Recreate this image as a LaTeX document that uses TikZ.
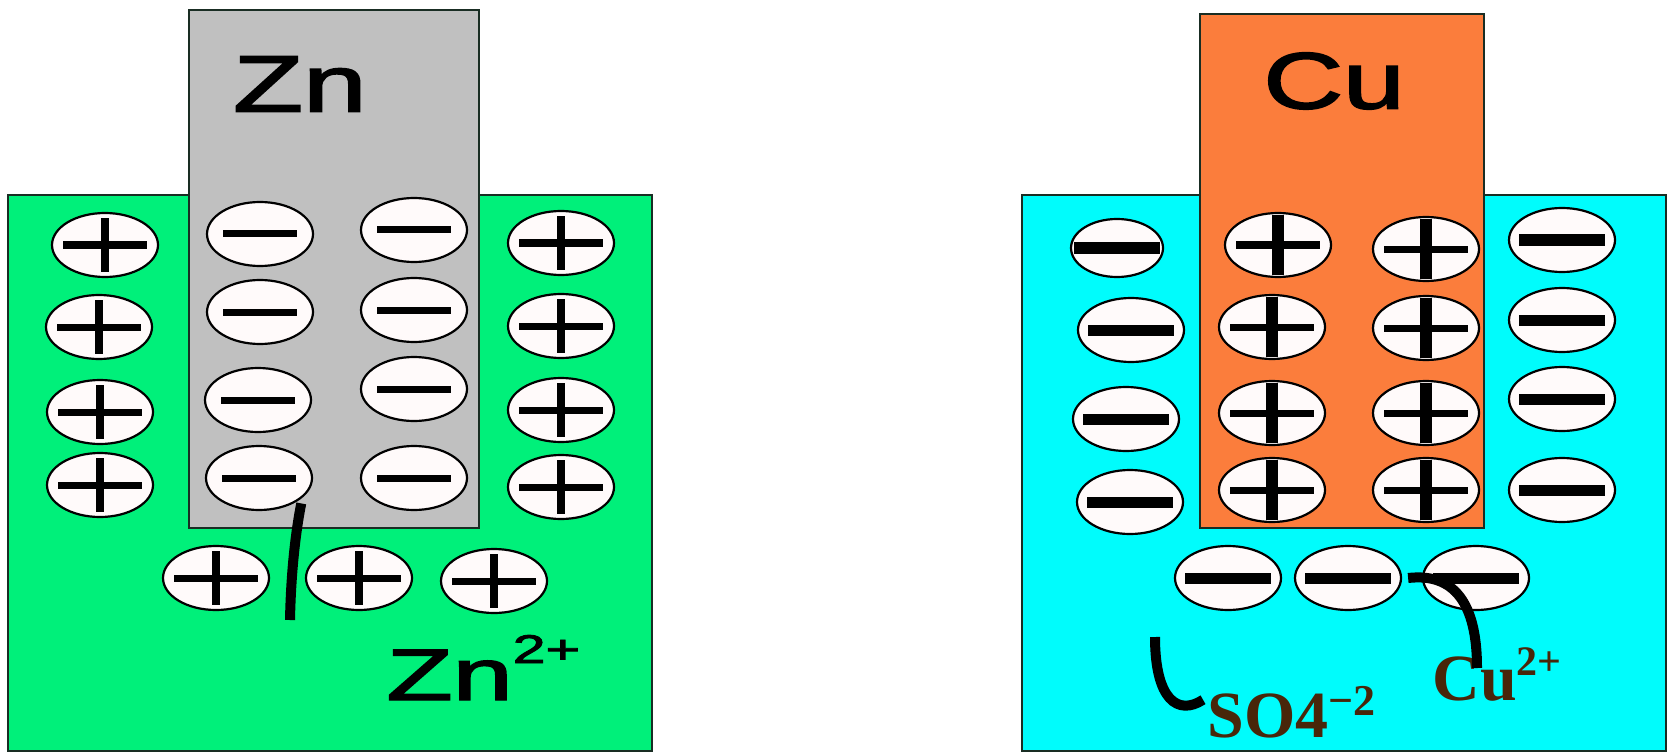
\documentclass[tikz,border=0pt]{standalone}
\usepackage{fontspec}
\setmainfont{Liberation Serif}
\newfontfamily\arialfont[FakeBold=2]{Liberation Sans}
\usetikzlibrary{shapes.geometric}

\definecolor{solgreen}{RGB}{0,240,122}
\definecolor{zincgray}{RGB}{192,192,192}
\definecolor{solcyan}{RGB}{0,252,252}
\definecolor{copperorange}{RGB}{251,125,60}
\definecolor{labelbrown}{RGB}{72,38,10}
\definecolor{edgedark}{RGB}{25,45,35}
\definecolor{ionwhite}{RGB}{255,250,250}

\tikzset{
  ion/.style={ellipse, draw=black, line width=1.1pt, fill=ionwhite,
    minimum width=53pt, minimum height=32pt, inner sep=0pt},
  minusion/.style 2 args={ion, path picture={
    \fill[black] ([shift={(-#1,-#2)}]path picture bounding box.center)
      rectangle ([shift={(#1,#2)}]path picture bounding box.center);}},
  plusion/.style n args={4}{ion, path picture={
    \fill[black] ([shift={(-#1,-#2)}]path picture bounding box.center)
      rectangle ([shift={(#1,#2)}]path picture bounding box.center);
    \fill[black] ([shift={(-#3,-#4)}]path picture bounding box.center)
      rectangle ([shift={(#3,#4)}]path picture bounding box.center);}},
  zmin/.style={minusion={18.5pt}{1.75pt}},
  zplus/.style={plusion={21pt}{1.75pt}{2.2pt}{13.5pt}},
  cmin/.style={minusion={21.5pt}{2.75pt}},
  cplus/.style={plusion={21pt}{1.75pt}{3pt}{15pt}},
  vessel/.style={draw=edgedark, line width=1.2pt},
  electrode/.style={draw=edgedark, line width=1.2pt},
  metallabel/.style={font=\arialfont\fontsize{40}{40}\selectfont, inner sep=0pt},
  leader/.style={draw=black, line width=5pt},
  ionlabel/.style={font=\bfseries\fontsize{33}{33}\selectfont, text=labelbrown,
    inner sep=0pt, anchor=base west},
}

\begin{document}
\begin{tikzpicture}[x=0.5pt,y=-0.5pt]
  \useasboundingbox (0,0) rectangle (1674,754);
  \fill[white] (0,0) rectangle (1674,754);

  % ---------- zinc half-cell ----------
  \path[vessel, fill=solgreen] (8,195) rectangle (652,751);
  \path[electrode, fill=zincgray] (189,10) rectangle (479,528);
  \node[metallabel, xscale=1.43] (znlabel) at (300,84) {Zn};

  \foreach \x/\y [count=\i] in {105/245, 99/327, 100/412, 100/485}
    \node[zplus] (zo\i) at (\x,\y) {};
  \foreach \x/\y [count=\i] in {260/234, 260/312, 258/400, 259/478}
    \node[zmin] (zl\i) at (\x,\y) {};
  \foreach \x/\y [count=\i] in {414/230, 414/310, 414/389, 414/478}
    \node[zmin] (zr\i) at (\x,\y) {};
  \foreach \x/\y [count=\i] in {561/243, 561/326, 561/410, 561/487}
    \node[zplus] (zq\i) at (\x,\y) {};
  \foreach \x/\y [count=\i] in {216/578, 359/578, 494/581}
    \node[zplus] (zb\i) at (\x,\y) {};

  \node[font=\arialfont\fontsize{36.5}{36.5}\selectfont, xscale=1.48,
        inner sep=0pt, anchor=base west] (zn2label) at (386,700)
        {Zn\raisebox{18.5pt}{\fontsize{20}{20}\selectfont 2+}};

  \coordinate (zntail) at (290,620);
  \draw[leader] ([shift={(2pt,-1pt)}]zl4.south east) .. controls (296,530) and (291,570) .. (zntail);

  % ---------- copper half-cell ----------
  \path[vessel, fill=solcyan] (1022,195) rectangle (1666,751);
  \path[electrode, fill=copperorange] (1200,14) rectangle (1484,528);
  \node[metallabel, xscale=1.38] (culabel) at (1334,81) {Cu};

  \node[cmin, minimum width=46pt, minimum height=29pt] (co1) at (1117,248) {};
  \foreach \x/\y [count=\i from 2] in {1131/330, 1126/419, 1130/502}
    \node[cmin] (co\i) at (\x,\y) {};
  \foreach \x/\y [count=\i] in {1278/245, 1272/327, 1272/413, 1272/490}
    \node[cplus] (cl\i) at (\x,\y) {};
  \foreach \x/\y [count=\i] in {1426/249, 1426/328, 1426/413, 1426/490}
    \node[cplus] (cr\i) at (\x,\y) {};
  \foreach \x/\y [count=\i] in {1562/240, 1562/320, 1562/399, 1562/490}
    \node[cmin] (cq\i) at (\x,\y) {};
  \foreach \x/\y [count=\i] in {1228/578, 1348/578, 1476/578}
    \node[cmin] (cb\i) at (\x,\y) {};

  \node[ionlabel] (so4label) at (1207,737)
        {SO4\raisebox{11pt}{\fontsize{22}{22}\selectfont −2}};
  \node[ionlabel] (cu2label) at (1432,700)
        {Cu\raisebox{12.5pt}{\fontsize{21}{21}\selectfont 2+}};

  \coordinate (so4tail) at (1155,637);
  \draw[leader] (so4tail) .. controls (1155,700) and (1178,716) .. ([xshift=-2pt,yshift=6pt]so4label.west);
  \draw[leader] ([xshift=3pt]cb2.east) .. controls (1460,572) and (1477,612) .. (1477,668);
\end{tikzpicture}
\end{document}
